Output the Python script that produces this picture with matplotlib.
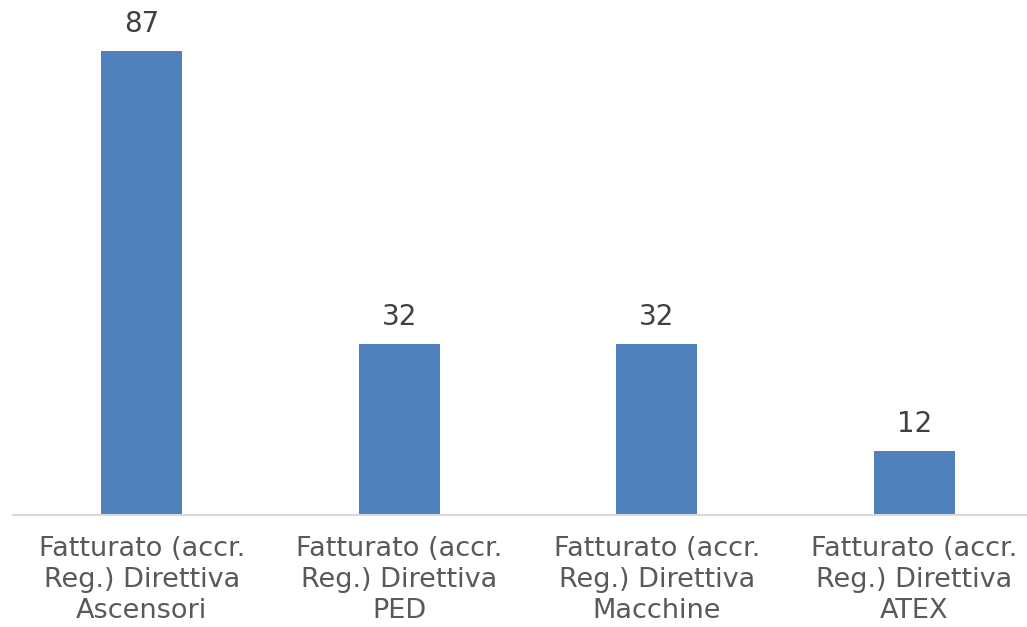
import matplotlib
matplotlib.use("Agg")
import matplotlib.pyplot as plt

categories = ["Fatturato (accr.\nReg.) Direttiva\nAscensori",
              "Fatturato (accr.\nReg.) Direttiva\nPED",
              "Fatturato (accr.\nReg.) Direttiva\nMacchine",
              "Fatturato (accr.\nReg.) Direttiva\nATEX"]
values = [87, 32, 32, 12]

W, H = 1027, 627
fig = plt.figure(figsize=(W/100, H/100), dpi=100)
left, right, bottom, top = 13, 1027, 515, 0
ax = fig.add_axes([left/W, (H-bottom)/H, (right-left)/W, (bottom-top)/H])
spacing = 257.5
x = list(range(len(values)))
ax.bar(x, values, width=81/spacing, color="#4F81BD", zorder=2)
ax.set_xlim(-0.5, -0.5 + (right-left)/spacing)
ax.set_ylim(0, (bottom-top)/5.333)
for xi, v in zip(x, values):
    ax.annotate(str(v), (xi, v), xytext=(0, 9.5), textcoords="offset points",
                ha="center", va="bottom", fontsize=20, color="#404040")
ax.set_xticks(x)
ax.set_xticklabels(categories, fontsize=19.5, color="#595959", linespacing=1.25)
ax.tick_params(axis="x", length=0, pad=15)
ax.set_yticks([])
for s in ["top", "right", "left"]:
    ax.spines[s].set_visible(False)
ax.spines["bottom"].set_color("#D9D9D9")
ax.spines["bottom"].set_linewidth(1.5)
fig.savefig("out.png", dpi=100)
